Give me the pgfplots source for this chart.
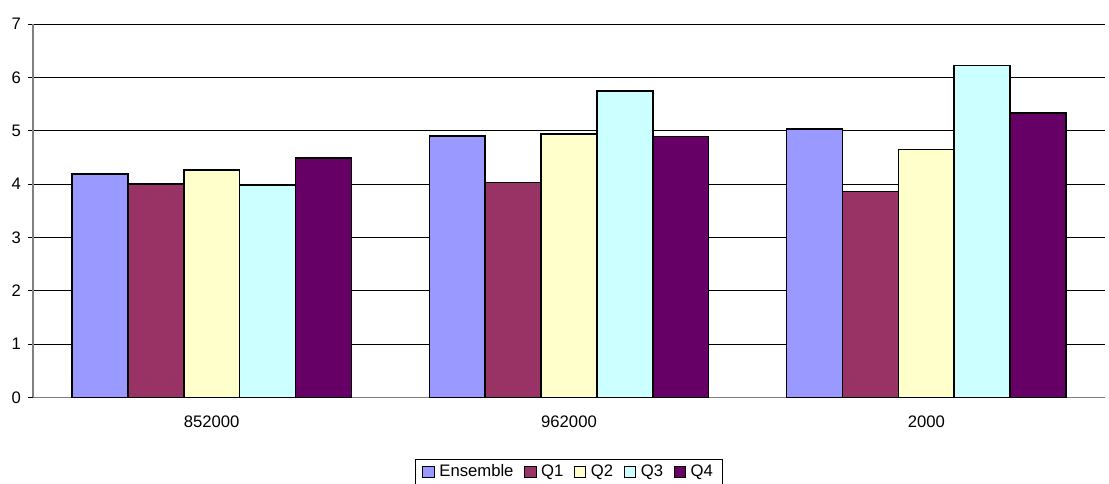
\documentclass[border=0pt]{standalone}
\usepackage{pgfplots}
\pgfplotsset{compat=1.18}
\usepackage{fontspec}
\setmainfont{Liberation Sans}

\definecolor{cEns}{HTML}{9999FF}
\definecolor{cQa}{HTML}{993366}
\definecolor{cQb}{HTML}{FFFFCC}
\definecolor{cQc}{HTML}{CCFFFF}
\definecolor{cQd}{HTML}{660066}
\definecolor{axgray}{HTML}{808080}

\pgfplotstableread{
x ens q1 q2 q3 q4
0 4.19 4.00 4.26 3.98 4.49
1 4.90 4.03 4.94 5.74 4.89
2 5.03 3.86 4.65 6.22 5.33
}\datatable

\begin{document}
\begin{tikzpicture}
\useasboundingbox (-24.75pt,-65pt) rectangle (807pt,298pt);
\begin{axis}[
  at={(0pt,0pt)}, anchor=south west,
  scale only axis,
  width=804pt, height=280pt,
  ybar=0pt, bar width=41.9pt,
  xmin=-0.5, xmax=2.5,
  ymin=0, ymax=7,
  ytick={0,1,...,7},
  xtick={0,1,2},
  xticklabels={852000,962000,2000},
  major x tick style={draw=none},
  extra x ticks={-0.5,0.5,1.5},
  extra x tick labels={},
  extra x tick style={major tick length=4pt, tick style={draw=black, thin}, tick align=outside, grid=none},
  ymajorgrids,
  major grid style={draw=black, line width=0.6pt},
  axis x line*=bottom,
  axis y line*=left,
  axis line style={draw=axgray, line width=0.9pt},
  y tick style={draw=black, thin},
  tick align=outside,
  major tick length=4pt,
  every x tick label/.append style={yshift=-6.5pt},
  every y tick label/.append style={xshift=-1.5pt},
  tick label style={font=\fontsize{12.5}{14}\selectfont},
  /pgf/number format/assume math mode=true,
  legend style={
    at={(0.5,-0.165)}, anchor=north,
    draw=black, line width=0.6pt, fill=white,
    font=\fontsize{12.5}{14}\selectfont,
    legend columns=-1,
    /tikz/every odd column/.append style={column sep=1.5pt},
    /tikz/every even column/.append style={column sep=6pt},
    inner xsep=5pt, inner ysep=2pt,
  },
  legend image code/.code={\draw[#1, draw=black, line width=0.6pt] (0pt,-4.3pt) rectangle (8.6pt,4.3pt);},
  every axis plot/.append style={draw=black, line width=1.2pt},
]
\addplot[fill=cEns] table[x=x,y=ens] {\datatable};
\addplot[fill=cQa] table[x=x,y=q1] {\datatable};
\addplot[fill=cQb] table[x=x,y=q2] {\datatable};
\addplot[fill=cQc] table[x=x,y=q3] {\datatable};
\addplot[fill=cQd] table[x=x,y=q4] {\datatable};
\legend{Ensemble,Q1,Q2,Q3,Q4}
\end{axis}
\end{tikzpicture}
\end{document}
